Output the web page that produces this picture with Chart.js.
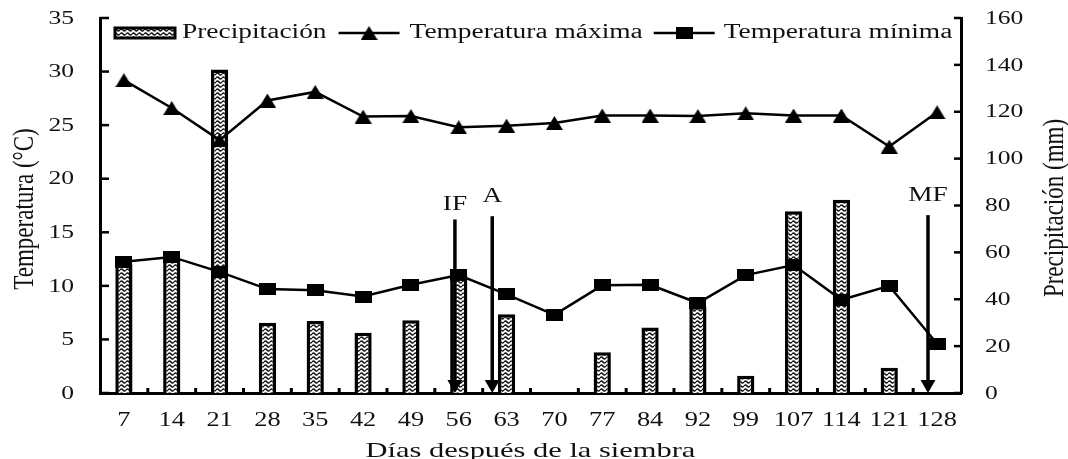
<!DOCTYPE html>
<html>
<head>
<meta charset="utf-8">
<script src="https://cdn.jsdelivr.net/npm/chart.js@4.4.1/dist/chart.umd.min.js"></script>
<style>
  html, body { margin: 0; padding: 0; background: #fff; }
  #wrap { width: 1068px; height: 459px; }
</style>
</head>
<body>
<div id="wrap"><canvas id="clima-chart" width="1068" height="459"></canvas></div>
<script>
// valores
const dias = ['7', '14', '21', '28', '35', '42', '49', '56', '63', '70', '77', '84', '92', '99', '107', '114', '121', '128'];
const precipitacion = [55, 57, 138, 30, 30.7, 25.7, 31, 51, 33.6, 0, 17.4, 28, 37, 7.4, 77.5, 82.5, 10.8, 0];
const tempMaxima = [29.2, 26.6, 23.6, 27.3, 28.1, 25.8, 25.85, 24.8, 24.95, 25.2, 25.9, 25.9, 25.85, 26.1, 25.9, 25.9, 23.0, 26.2];
const tempMinima = [12.25, 12.7, 11.3, 9.7, 9.6, 9.0, 10.1, 11.0, 9.2, 7.3, 10.05, 10.1, 8.4, 11.0, 11.95, 8.7, 10.0, 4.6];

// eventos fenológicos (posición en índice de categoría, alturas en °C)
const eventos = ['IF', 'A', 'MF'];
const eventoPos = [6.92, 7.70, 16.81];
const eventoTope = [16.2, 16.5, 16.6];
const eventoEtiqueta = [17.6, 18.3, 18.4];

const SERIF = "'Liberation Serif', 'Times New Roman', serif";
const INK = '#111';

// trama ondulada de las barras
function crearTrama() {
    const c = document.createElement('canvas');
    c.width = 6; c.height = 4;
    const g = c.getContext('2d');
    g.fillStyle = '#fff';
    g.fillRect(0, 0, 6, 4);
    g.strokeStyle = '#111';
    g.lineWidth = 1.4;
    g.beginPath();
    g.moveTo(0, 2);
    g.quadraticCurveTo(1.5, 0, 3, 2);
    g.quadraticCurveTo(4.5, 4, 6, 2);
    g.stroke();
    return c.getContext('2d').createPattern(c, 'repeat');
}

function marca(forma) {
    const c = document.createElement('canvas');
    c.width = 17;
    c.height = forma === 'tri' ? 14 : 12;
    const g = c.getContext('2d');
    g.fillStyle = '#000';
    if (forma === 'tri') {
        g.beginPath();
        g.moveTo(8.5, 0); g.lineTo(17, 14); g.lineTo(0, 14);
        g.closePath(); g.fill();
    } else {
        g.fillRect(0, 0, 17, 12);
    }
    return c;
}

const trama = crearTrama();
const marcaTri = marca('tri');
const marcaCua = marca('cua');

// texto ensanchado horizontalmente (la figura original está estirada)
function texto(ctx, t, x, y, size, sx, align, baseline) {
    ctx.save();
    ctx.font = size + 'px ' + SERIF;
    ctx.fillStyle = INK;
    ctx.textAlign = align || 'center';
    ctx.textBaseline = baseline || 'middle';
    ctx.translate(x, y);
    ctx.scale(sx, 1);
    ctx.fillText(t, 0, 0);
    const w = ctx.measureText(t).width * sx;
    ctx.restore();
    return w;
}

function textoVertical(ctx, t, x, y, size, sx) {
    ctx.save();
    ctx.font = size + 'px ' + SERIF;
    ctx.fillStyle = INK;
    ctx.textAlign = 'center';
    ctx.textBaseline = 'middle';
    ctx.translate(x, y);
    ctx.scale(sx, 1);
    ctx.rotate(-Math.PI / 2);
    ctx.fillText(t, 0, 0);
    ctx.restore();
}

const decorado = {
    id: 'decorado',
    afterDatasetsDraw(chart) {
        const { ctx, chartArea: a, scales: { x, y, y1 } } = chart;
        ctx.save();
        ctx.fillStyle = '#000';
        // marcas interiores del eje x
        for (let i = 0; i < dias.length - 1; i++) {
            const px = x.getPixelForValue(i + 0.5);
            ctx.fillRect(px - 1.5, a.bottom - 5, 3, 5);
        }
        // marcas interiores de los ejes y
        y.ticks.forEach(t => {
            const py = y.getPixelForValue(t.value);
            ctx.fillRect(a.left, py - 1.25, 9, 2.5);
        });
        y1.ticks.forEach(t => {
            const py = y1.getPixelForValue(t.value);
            ctx.fillRect(a.right - 7, py - 1.25, 7, 2.5);
        });
        // flechas IF, A, MF
        eventos.forEach((ev, i) => {
            const px = x.getPixelForValue(eventoPos[i]);
            const top = y.getPixelForValue(eventoTope[i]);
            const tip = y.getPixelForValue(0);
            ctx.strokeStyle = '#000';
            ctx.lineWidth = 3.5;
            ctx.beginPath();
            ctx.moveTo(px, top);
            ctx.lineTo(px, tip - 10);
            ctx.stroke();
            ctx.beginPath();
            ctx.moveTo(px - 7.5, tip - 13);
            ctx.lineTo(px + 7.5, tip - 13);
            ctx.lineTo(px, tip);
            ctx.closePath();
            ctx.fill();
            texto(ctx, ev, px, y.getPixelForValue(eventoEtiqueta[i]), 21, 1.3);
        });
        ctx.restore();
    },
    afterDraw(chart) {
        const { ctx, chartArea: a, scales: { x, y, y1 } } = chart;
        // etiquetas de los ejes
        y.ticks.forEach(t => {
            texto(ctx, String(t.value), 74, y.getPixelForValue(t.value) + 1, 18, 1.42, 'right');
        });
        y1.ticks.forEach(t => {
            texto(ctx, String(t.value), 985, y1.getPixelForValue(t.value) + 1, 18, 1.42, 'left');
        });
        dias.forEach((d, i) => {
            texto(ctx, d, x.getPixelForValue(i), 426, 20, 1.32, 'center', 'alphabetic');
        });
        texto(ctx, 'Días después de la siembra', (a.left + a.right) / 2, 457, 21, 1.45, 'center', 'alphabetic');
        textoVertical(ctx, 'Temperatura (°C)', 25, 209, 23, 1.29);
        textoVertical(ctx, 'Precipitación (mm)', 1055, 208, 23, 1.29);

        // leyenda
        const ly = a.top + 15;
        let lx = a.left + 15;
        ctx.save();
        ctx.fillStyle = trama;
        ctx.fillRect(lx, ly - 5, 60, 10);
        ctx.strokeStyle = '#000';
        ctx.lineWidth = 3;
        ctx.strokeRect(lx, ly - 5, 60, 10);
        ctx.restore();
        lx += 67;
        lx += texto(ctx, 'Precipitación', lx, ly, 20, 1.37, 'left') + 12;
        const muestra = (x0, img) => {
            ctx.save();
            ctx.strokeStyle = '#000';
            ctx.lineWidth = 2.5;
            ctx.beginPath();
            ctx.moveTo(x0, ly); ctx.lineTo(x0 + 61, ly);
            ctx.stroke();
            ctx.drawImage(img, x0 + 30.5 - img.width / 2, ly - img.height / 2);
            ctx.restore();
        };
        muestra(lx, marcaTri);
        lx += 71;
        lx += texto(ctx, 'Temperatura máxima', lx, ly, 20, 1.37, 'left') + 11;
        muestra(lx, marcaCua);
        lx += 70;
        texto(ctx, 'Temperatura mínima', lx, ly, 20, 1.37, 'left');
    }
};

const ctx = document.getElementById('clima-chart').getContext('2d');

new Chart(ctx, {
    data: {
        labels: dias,
        datasets: [
            {
                type: 'line',
                label: 'Temperatura máxima',
                data: tempMaxima,
                yAxisID: 'y',
                borderColor: '#000',
                borderWidth: 2.5,
                pointStyle: marcaTri,
                pointRadius: 8,
                tension: 0,
                order: 1
            },
            {
                type: 'line',
                label: 'Temperatura mínima',
                data: tempMinima,
                yAxisID: 'y',
                borderColor: '#000',
                borderWidth: 2.5,
                pointStyle: marcaCua,
                pointRadius: 8,
                tension: 0,
                order: 2
            },
            {
                type: 'bar',
                label: 'Precipitación',
                data: precipitacion,
                yAxisID: 'y1',
                backgroundColor: trama,
                borderColor: '#000',
                borderWidth: 3.5,
                barPercentage: 0.36,
                categoryPercentage: 1,
                order: 3
            }
        ]
    },
    options: {
        responsive: false,
        animation: false,
        devicePixelRatio: 1,
        layout: { padding: { top: 18, left: 0, right: 0, bottom: 0 } },
        plugins: { legend: { display: false }, tooltip: { enabled: false } },
        scales: {
            x: {
                type: 'category',
                offset: true,
                z: 1,
                grid: { display: false },
                border: { display: true, color: '#000', width: 3 },
                ticks: { display: false },
                afterFit: s => { s.height = 66; }
            },
            y: {
                type: 'linear',
                position: 'left',
                min: 0, max: 35,
                grid: { display: false },
                border: { display: true, color: '#000', width: 3 },
                ticks: { display: false, stepSize: 5 },
                afterFit: s => { s.width = 100; }
            },
            y1: {
                type: 'linear',
                position: 'right',
                min: 0, max: 160,
                grid: { display: false },
                border: { display: true, color: '#000', width: 3 },
                ticks: { display: false, stepSize: 20 },
                afterFit: s => { s.width = 107; }
            }
        }
    },
    plugins: [decorado]
});
</script>
</body>
</html>
